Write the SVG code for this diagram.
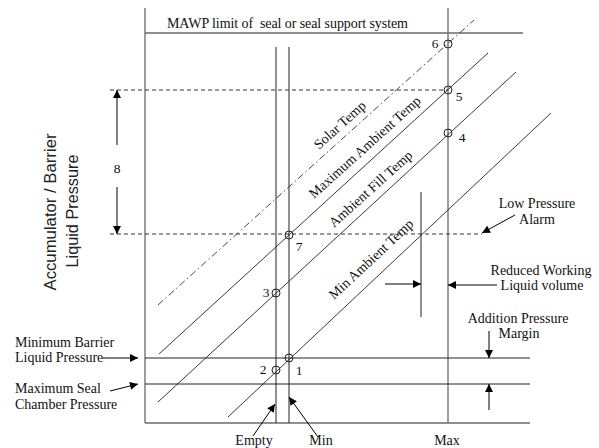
<svg xmlns="http://www.w3.org/2000/svg" width="599" height="448" viewBox="0 0 599 448">
<defs>
<marker id="ah" viewBox="0 0 10 10" refX="10" refY="5" markerWidth="9" markerHeight="8" markerUnits="userSpaceOnUse" orient="auto"><path d="M0,0 L10,5 L0,10 Z" fill="#000"/></marker>
</defs>
<style>
.frame{stroke:#6a6a6a;stroke-width:1.3;fill:none}
.ln{stroke:#222;stroke-width:1;fill:none}
.diag{stroke:#222;stroke-width:0.9;fill:none}
.dash{stroke:#333;stroke-width:1;stroke-dasharray:4 3;fill:none}
.dd{stroke:#333;stroke-width:0.9;stroke-dasharray:7 3 1.5 3;fill:none}
.arr{stroke:#000;stroke-width:1;fill:none;marker-end:url(#ah)}
.pt{stroke:#222;stroke-width:1;fill:none}
text{font-family:"Liberation Serif","Times New Roman",serif;font-size:14px;fill:#111}
.num{font-size:13.5px}
.ax{font-family:"Liberation Sans",Arial,sans-serif;font-size:16.5px;fill:#222}
.mid{text-anchor:middle}
</style>
<rect width="599" height="448" fill="#fff"/>
<g id="frame">
<line class="frame" x1="145" y1="8" x2="145" y2="423"/>
<line class="frame" x1="448" y1="8" x2="448" y2="423"/>
<line class="frame" x1="145" y1="33" x2="523" y2="33"/>
<line class="frame" x1="145" y1="423" x2="530" y2="423"/>
<line class="ln" x1="145" y1="358" x2="530" y2="358"/>
<line class="ln" x1="145" y1="384" x2="530" y2="384"/>
<line class="ln" x1="276" y1="47" x2="276" y2="423"/>
<line class="ln" x1="289" y1="47" x2="289" y2="423"/>
<line class="ln" x1="421" y1="192" x2="421" y2="317"/>
<line class="dash" x1="110" y1="90" x2="448" y2="90"/>
<line class="dash" x1="110" y1="234" x2="482" y2="234"/>
</g>
<g id="temp-lines">
<line class="dd" x1="158" y1="305" x2="474" y2="20"/>
<line class="diag" x1="159" y1="354" x2="488" y2="53"/>
<line class="diag" x1="158" y1="402" x2="516" y2="72"/>
<line class="diag" x1="228" y1="417" x2="551" y2="113"/>
<text x="319" y="150" transform="rotate(-42 319 150)">Solar Temp</text>
<text x="314" y="199" transform="rotate(-42 314 199)">Maximum Ambient Temp</text>
<text x="334" y="228" transform="rotate(-42 334 228)">Ambient Fill Temp</text>
<text x="334" y="300" transform="rotate(-43 334 300)">Min Ambient Temp</text>
</g>
<g id="points">
<circle class="pt" cx="448" cy="44" r="4"/>
<circle class="pt" cx="448" cy="90" r="4"/>
<circle class="pt" cx="448" cy="133" r="4"/>
<circle class="pt" cx="289" cy="235" r="4"/>
<circle class="pt" cx="276" cy="293" r="4"/>
<circle class="pt" cx="276" cy="370" r="4"/>
<circle class="pt" cx="289" cy="358" r="4"/>
<text class="num mid" x="435" y="48">6</text>
<text class="num mid" x="459" y="101">5</text>
<text class="num mid" x="462" y="142">4</text>
<text class="num mid" x="299" y="251">7</text>
<text class="num mid" x="266" y="297">3</text>
<text class="num mid" x="263" y="374">2</text>
<text class="num mid" x="299" y="375">1</text>
</g>
<g id="title">
<text x="167" y="28" xml:space="preserve" textLength="241">MAWP limit of  seal or seal support system</text>
</g>
<g id="axis-label">
<text class="ax mid" transform="translate(56,212) rotate(-90)" textLength="157" lengthAdjust="spacingAndGlyphs">Accumulator / Barrier</text>
<text class="ax mid" transform="translate(78,211) rotate(-90)" textLength="113" lengthAdjust="spacingAndGlyphs">Liquid Pressure</text>
</g>
<g id="span-8">
<text class="num mid" x="117" y="173">8</text>
</g>
<g id="labels">
<text class="mid" x="537" y="208">Low Pressure</text>
<text class="mid" x="537" y="224">Alarm</text>
<text class="mid" x="541" y="275">Reduced Working</text>
<text class="mid" x="542" y="290">Liquid volume</text>
<text class="mid" x="518" y="323">Addition Pressure</text>
<text class="mid" x="519" y="338">Margin</text>
<text x="15" y="347">Minimum Barrier</text>
<text x="15" y="362">Liquid Pressure</text>
<text x="15" y="393">Maximum Seal</text>
<text x="15" y="409">Chamber Pressure</text>
<text class="mid" x="254" y="445">Empty</text>
<text class="mid" x="321" y="445">Min</text>
<text class="mid" x="447" y="445">Max</text>
</g>
<g id="connectors">
<line class="arr" x1="117" y1="145" x2="117" y2="90"/>
<line class="arr" x1="117" y1="187" x2="117" y2="234"/>
<line class="arr" x1="515" y1="215" x2="482" y2="233"/>
<line class="arr" x1="385" y1="284" x2="421" y2="284"/>
<line class="arr" x1="497" y1="285" x2="448" y2="285"/>
<line class="arr" x1="489" y1="331" x2="489" y2="358"/>
<line class="arr" x1="489" y1="410" x2="489" y2="384"/>
<line class="arr" x1="103" y1="358" x2="138" y2="358"/>
<line class="arr" x1="110" y1="391" x2="138" y2="384"/>
<line class="arr" x1="253" y1="436" x2="275" y2="404"/>
<line class="arr" x1="318" y1="437" x2="289" y2="397"/>
</g>
</svg>
